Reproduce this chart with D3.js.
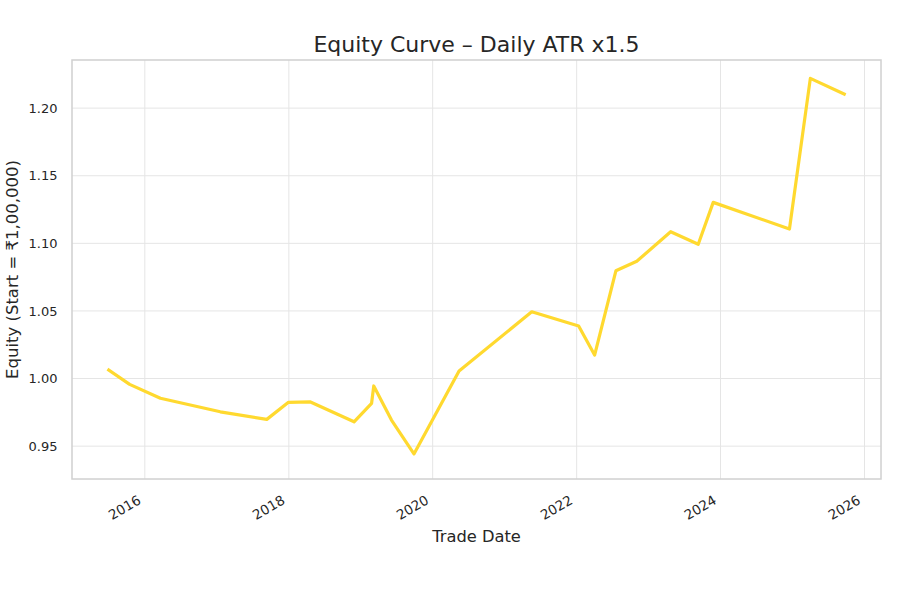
<!DOCTYPE html>
<html>
<head>
<meta charset="utf-8">
<script src="https://cdn.jsdelivr.net/npm/d3@7"></script>
<style>
  body { margin: 0; background: #fff; }
  svg text { font-family: "DejaVu Sans", sans-serif; fill: #262626; }
</style>
</head>
<body>
<svg id="chart" width="900" height="600"></svg>
<script>
const tradeDates = [
  "2015-07-02", "2015-10-16", "2016-03-20", "2017-01-18", "2017-09-11",
  "2017-12-30", "2018-04-18", "2018-11-28", "2019-02-25", "2019-03-08",
  "2019-06-06", "2019-09-28", "2020-05-14", "2021-05-18", "2022-01-11",
  "2022-04-02", "2022-07-19", "2022-11-02", "2023-04-23", "2023-09-10",
  "2023-11-25", "2024-12-16", "2025-04-01", "2025-09-20"
];
const equityValues = [
  1.0063, 0.9957, 0.9854, 0.9754, 0.9698,
  0.9824, 0.9828, 0.9680, 0.9817, 0.9945,
  0.9693, 0.9442, 1.0055, 1.0494, 1.0388,
  1.0174, 1.0797, 1.0867, 1.1086, 1.0993,
  1.1303, 1.1106, 1.2220, 1.2104
];
const yTickValues = [0.95, 1.00, 1.05, 1.10, 1.15, 1.20];
const xTickYears = [2016, 2018, 2020, 2022, 2024, 2026];
const titleText = "Equity Curve – Daily ATR x1.5";
const xLabelText = "Trade Date";
const yLabelText = "Equity (Start = ₹1,00,000)";

(function () {
const parse = d3.timeParse("%Y-%m-%d");
const data = tradeDates.map((d, i) => ({ date: parse(d), value: equityValues[i] }));

const svg = d3.select("#chart");
const pL = 72, pR = 881, pT = 60, pB = 479;

// matplotlib-like 5% margins on x
const dExt = d3.extent(data, d => +d.date);
const dPad = (dExt[1] - dExt[0]) * 0.05;
const x = d3.scaleTime()
  .domain([new Date(dExt[0] - dPad), new Date(dExt[1] + dPad)])
  .range([pL, pR]);
const y = d3.scaleLinear()
  .domain([0.9257, 1.2356])
  .range([pB, pT]);

// grid
const grid = svg.append("g");
grid.selectAll("line.h").data(yTickValues).enter().append("line")
  .attr("x1", pL).attr("x2", pR)
  .attr("y1", d => y(d)).attr("y2", d => y(d))
  .attr("stroke", "#e5e5e5").attr("stroke-width", 1);
const xTicks = xTickYears.map(yr => new Date(yr, 0, 1));
grid.selectAll("line.v").data(xTicks).enter().append("line")
  .attr("x1", d => x(d)).attr("x2", d => x(d))
  .attr("y1", pT).attr("y2", pB)
  .attr("stroke", "#e5e5e5").attr("stroke-width", 1);

// line
const line = d3.line().x(d => x(d.date)).y(d => y(d.value));
svg.append("path").datum(data)
  .attr("d", line)
  .attr("fill", "none")
  .attr("stroke", "#FFD92F")
  .attr("stroke-width", 3.2)
  .attr("stroke-linejoin", "round")
  .attr("stroke-linecap", "square");

// frame
svg.append("rect")
  .attr("x", pL).attr("y", pT)
  .attr("width", pR - pL).attr("height", pB - pT)
  .attr("fill", "none").attr("stroke", "#d0d0d0").attr("stroke-width", 1.5);

// y axis
const yAxis = d3.axisLeft(y).tickValues(yTickValues).tickFormat(d3.format(".2f")).tickSize(0).tickPadding(14.5);
const yg = svg.append("g").attr("transform", `translate(${pL},0)`).call(yAxis);
yg.select(".domain").remove();
yg.selectAll("text").style("font-size", "13px").attr("fill", "#262626")
  .style("font-family", "DejaVu Sans, sans-serif");

// x axis
const xAxis = d3.axisBottom(x).tickValues(xTicks).tickFormat(d3.timeFormat("%Y")).tickSize(0);
const xg = svg.append("g").attr("transform", `translate(0,${pB})`).call(xAxis);
xg.select(".domain").remove();
xg.selectAll("text")
  .style("font-size", "13.5px").attr("fill", "#262626")
  .style("font-family", "DejaVu Sans, sans-serif")
  .attr("text-anchor", "end")
  .attr("dy", null).attr("y", null)
  .attr("transform", "translate(-3.5,24) rotate(-30)");

// title and labels
svg.append("text").attr("x", (pL + pR) / 2).attr("y", 52)
  .attr("text-anchor", "middle").style("font-size", "22px").text(titleText);
svg.append("text").attr("x", (pL + pR) / 2).attr("y", 542)
  .attr("text-anchor", "middle").style("font-size", "16.3px").text(xLabelText);
svg.append("text")
  .attr("transform", `translate(17.5,${(pT + pB) / 2}) rotate(-90)`)
  .attr("text-anchor", "middle").style("font-size", "16.5px").text(yLabelText);
})();
</script>
</body>
</html>
